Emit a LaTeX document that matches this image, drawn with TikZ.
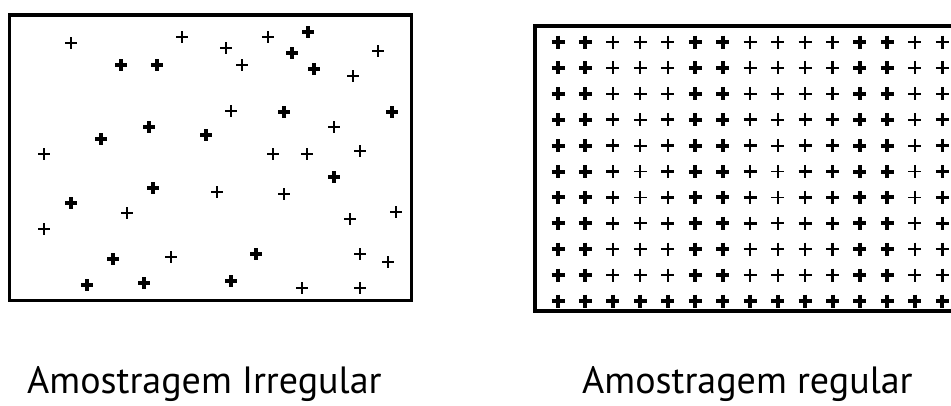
\documentclass[tikz,border=0pt]{standalone}
\usepackage{fontspec}
\setmainfont{PT Sans}
\begin{document}
\begin{tikzpicture}[x=1pt,y=-1pt,
  plust/.style={line width=1.8pt},
  plusm/.style={line width=2.5pt},
  plusb/.style={line width=4.0pt},
  lt/.style={line width=1.8pt},
  lb/.style={line width=3.6pt},
  frame/.style={line width=3pt},
  frametop/.style={line width=4.5pt},
  caption/.style={font=\fontsize{38}{44}\selectfont, inner sep=0pt, anchor=base west}]
\useasboundingbox (0,0) rectangle (951,405);
\clip (0,0) rectangle (951,405);
\fill[white] (0,0) rectangle (951,405);
% left box
\draw[frame] (9.5,15) -- (9.5,300) -- (411,300) -- (411,15);
\draw[frametop] (8,15) -- (412.5,15);
\foreach \w/\x/\y in {lt/71/43, lt/182/37, lt/268/37, lb/308/32, lt/226/48, lb/292/53, lt/378/51,
  lb/121/65, lb/157/65, lt/242/65, lb/314/69, lt/353/76, lt/231/111, lb/284/112, lb/392/112,
  lb/149/127, lt/334/127, lb/101/139, lb/206/135, lt/44/154, lt/273/154, lt/307/154, lt/360/151,
  lb/334/177, lb/153/188, lt/217/192, lt/284/194, lb/71/203, lt/127/213, lt/350/219, lt/396/212,
  lt/44/229, lb/113/259, lt/171/257, lb/256/254, lt/360/254, lt/388/262, lb/87/285, lb/144/283,
  lb/231/281, lt/302/288, lt/360/288}
  {\draw[\w, shift={(\x,\y)}] (-6,0) -- (6,0) (0,-6) -- (0,6);}
% right box
\draw[line width=4pt] (960,26) -- (534.5,26) -- (534.5,311) -- (960,311);
\foreach \c/\w in {0/b,1/b,2/m,3/t,4/m,5/b,6/b,7/m,8/t,9/m,10/m,11/b,12/b,13/t,14/m}
  \foreach \r in {0,...,9}
    {\draw[plus\w, shift={({558+27.45*\c},{42+25.9*\r})}] (-6.5,0) -- (6.5,0) (0,-6.5) -- (0,6.5);}
\foreach \c in {0,...,14}
  {\draw[plusb, shift={({558+27.45*\c},301)}] (-6.5,0) -- (6.5,0) (0,-6.5) -- (0,6.5);}
% captions
\node[caption] (capL) at (27,393) {Amostragem Irregular};
\node[caption] (capR) at (582,393) {Amostragem regular};
\end{tikzpicture}
\end{document}
